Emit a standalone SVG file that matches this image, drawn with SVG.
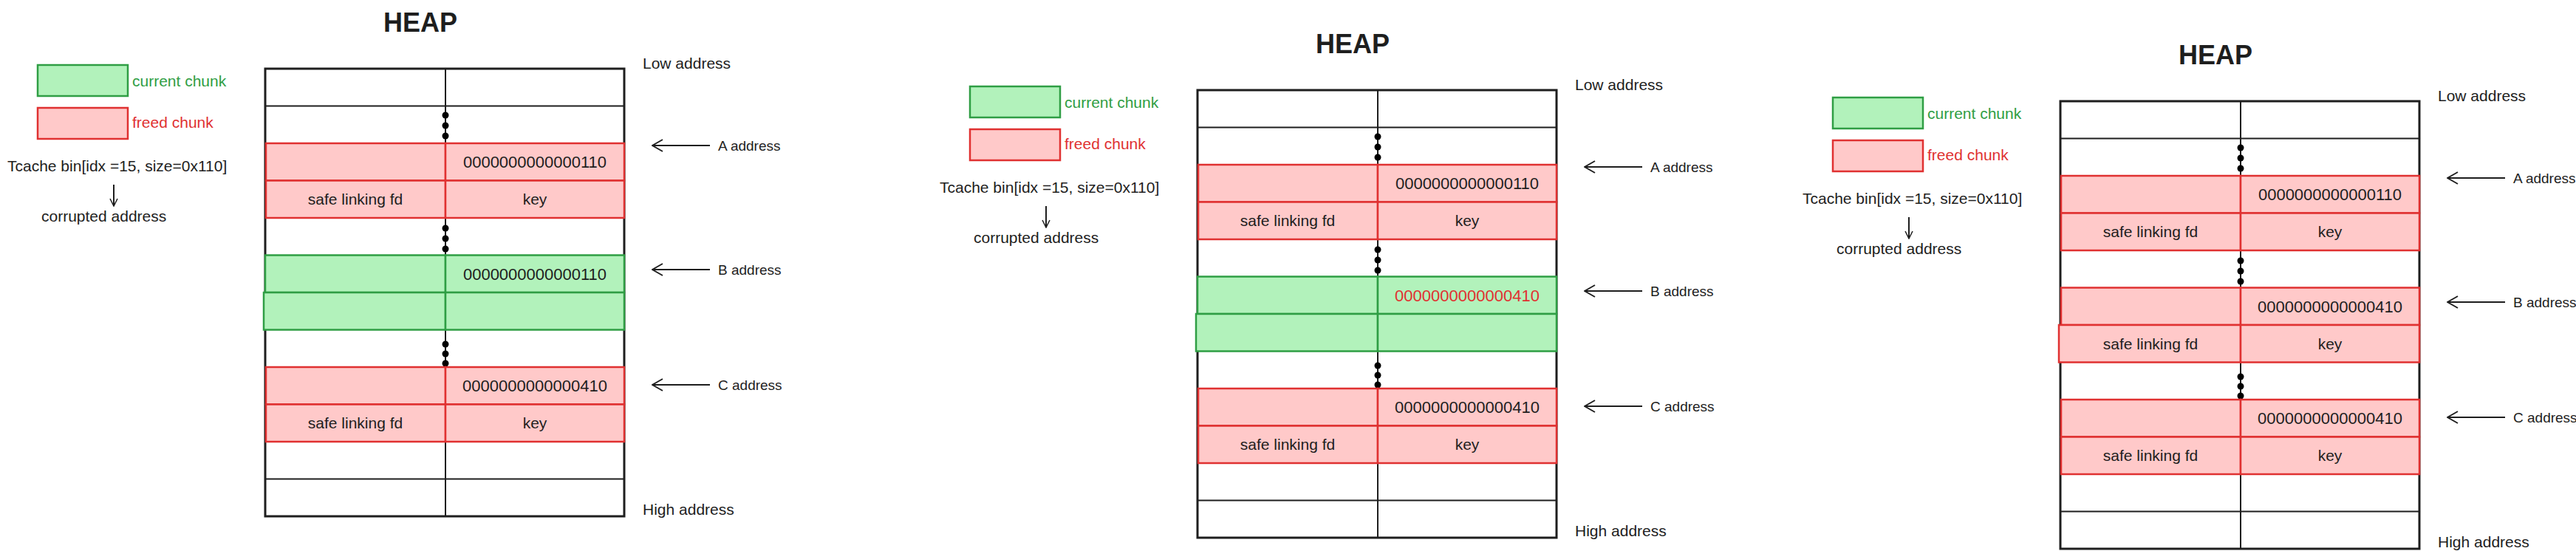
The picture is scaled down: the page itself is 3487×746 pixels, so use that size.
<svg xmlns="http://www.w3.org/2000/svg" width="3487" height="746" viewBox="0 0 3487 746">
<defs>
<style>
text{font-family:"Liberation Sans",Arial,sans-serif;fill:#1e1e1e;font-size:21px}
.t{font-size:36px;font-weight:bold;text-anchor:middle}
.c{text-anchor:middle}
.a{font-size:19px}
.n{text-anchor:middle;font-size:22px}
.w{fill:#fff;stroke:#1e1e1e;stroke-width:3}
.g{fill:#b2f2bb;stroke:#2f9e44;stroke-width:2.5}
.r{fill:#ffc9c9;stroke:#e03131;stroke-width:2.5}
.ln{stroke:#1e1e1e;stroke-width:2;fill:none}
.gt{fill:#2f9e44}
.rt{fill:#e03131}
</style>
<marker id="ah" markerWidth="16" markerHeight="18" refX="15" refY="9" orient="auto" markerUnits="userSpaceOnUse">
<path d="M1,1 L15,9 L1,17" fill="none" stroke="#1e1e1e" stroke-width="2"/>
</marker>
<marker id="ad" markerWidth="12" markerHeight="12" refX="11" refY="6" orient="auto" markerUnits="userSpaceOnUse">
<path d="M1,1 L11,6 L1,11" fill="none" stroke="#1e1e1e" stroke-width="1.5"/>
</marker>
<g id="common">
<text class="t" x="569" y="43">HEAP</text>
<rect class="g" x="51" y="88" width="122" height="42"/>
<text class="gt" x="179" y="117">current chunk</text>
<rect class="r" x="51" y="146" width="122" height="42"/>
<text class="rt" x="179" y="173">freed chunk</text>
<text x="10" y="232">Tcache bin[idx =15, size=0x110]</text>
<line class="ln" x1="154" y1="250" x2="154" y2="279" marker-end="url(#ad)"/>
<text x="56" y="300">corrupted address</text>
<rect class="w" x="359" y="93" width="486" height="606"/>
<line class="ln" x1="603" y1="93" x2="603" y2="699" stroke-width="3"/>
<line class="ln" x1="359" y1="143.5" x2="845" y2="143.5" stroke-width="3"/>
<line class="ln" x1="359" y1="648.5" x2="845" y2="648.5" stroke-width="3"/>
<circle cx="603" cy="156" r="4.5"/><circle cx="603" cy="170" r="4.5"/><circle cx="603" cy="184" r="4.5"/>
<circle cx="603" cy="309" r="4.5"/><circle cx="603" cy="323" r="4.5"/><circle cx="603" cy="337" r="4.5"/>
<circle cx="603" cy="466" r="4.5"/><circle cx="603" cy="479" r="4.5"/><circle cx="603" cy="492" r="4.5"/>
<rect class="r" x="360" y="194" width="243" height="50.5"/>
<rect class="r" x="603" y="194" width="242" height="50.5"/>
<text class="n" x="724" y="227">0000000000000110</text>
<rect class="r" x="360" y="244.5" width="243" height="50.5"/>
<rect class="r" x="603" y="244.5" width="242" height="50.5"/>
<text class="c" x="481" y="277">safe linking fd</text>
<text class="c" x="724" y="277">key</text>
<rect class="r" x="360" y="497" width="243" height="50.5"/>
<rect class="r" x="603" y="497" width="242" height="50.5"/>
<text class="n" x="724" y="530">0000000000000410</text>
<rect class="r" x="360" y="547.5" width="243" height="50.5"/>
<rect class="r" x="603" y="547.5" width="242" height="50.5"/>
<text class="c" x="481" y="580">safe linking fd</text>
<text class="c" x="724" y="580">key</text>
<text x="870" y="93">Low address</text>
<text x="870" y="697">High address</text>
<g id="conns">
<line class="ln" x1="961" y1="197" x2="883" y2="197" marker-end="url(#ah)"/>
<line class="ln" x1="961" y1="365" x2="883" y2="365" marker-end="url(#ah)"/>
<line class="ln" x1="961" y1="521" x2="883" y2="521" marker-end="url(#ah)"/>
</g>
<text class="a" x="972" y="204">A address</text>
<text class="a" x="972" y="372">B address</text>
<text class="a" x="972" y="528">C address</text>
</g>
</defs>
<rect width="3487" height="746" fill="#fff"/>
<g id="panel1">
<use href="#common"/>
<g id="chunkB1">
<rect class="g" x="359" y="345.5" width="244" height="50.5"/>
<rect class="g" x="603" y="345.5" width="242" height="50.5"/>
<text class="n" x="724" y="379">0000000000000110</text>
<rect class="g" x="357" y="396" width="246" height="50.5"/>
<rect class="g" x="603" y="396" width="242" height="50.5"/>
</g>
</g>
<g id="panel2" transform="translate(1262,29)">
<use href="#common"/>
<g id="chunkB2">
<rect class="g" x="359" y="345.5" width="244" height="50.5"/>
<rect class="g" x="603" y="345.5" width="242" height="50.5"/>
<text class="n rt" x="724" y="379">0000000000000410</text>
<rect class="g" x="357" y="396" width="246" height="50.5"/>
<rect class="g" x="603" y="396" width="242" height="50.5"/>
</g>
</g>
<g id="panel3" transform="translate(2430,44)">
<use href="#common"/>
<g id="chunkB3">
<rect class="r" x="360" y="345.5" width="243" height="50.5"/>
<rect class="r" x="603" y="345.5" width="242" height="50.5"/>
<text class="n" x="724" y="379">0000000000000410</text>
<rect class="r" x="357" y="396" width="246" height="50.5"/>
<rect class="r" x="603" y="396" width="242" height="50.5"/>
<text class="c" x="481" y="429">safe linking fd</text>
<text class="c" x="724" y="429">key</text>
</g>
</g>
</svg>
